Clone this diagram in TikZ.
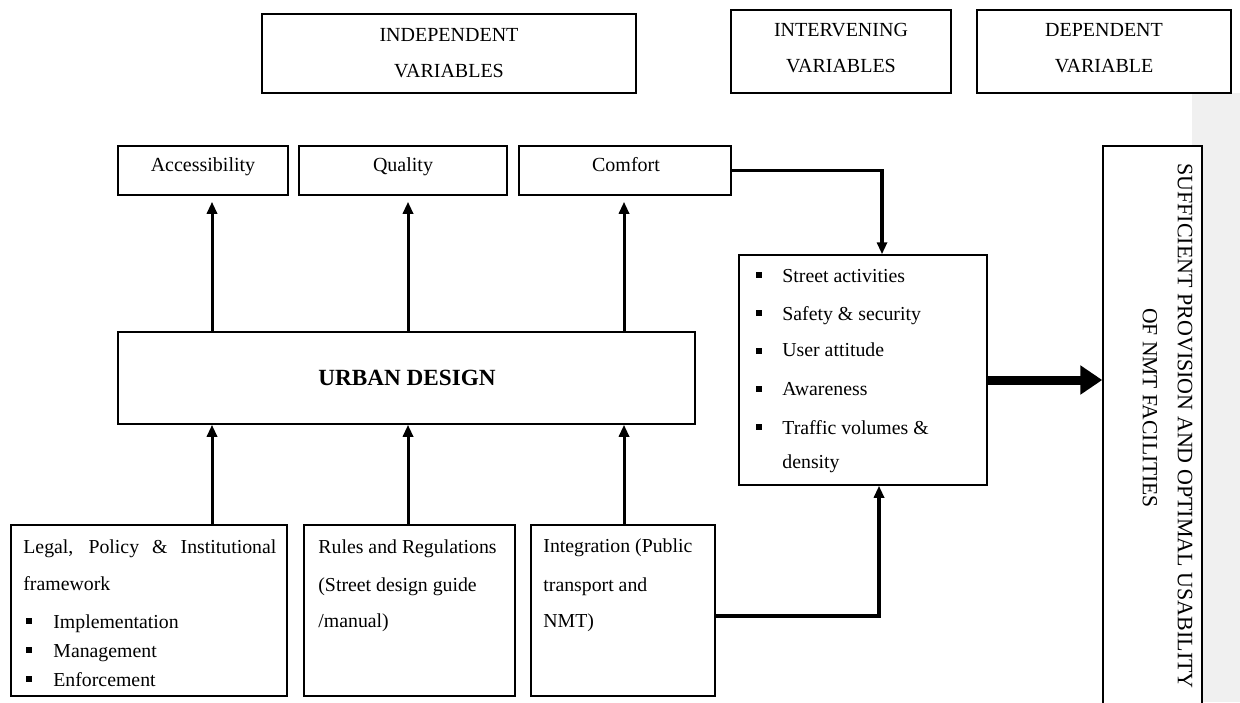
\documentclass[tikz,border=0pt]{standalone}
\usepackage{fontspec}
\setmainfont{Liberation Serif}
\usetikzlibrary{arrows.meta,calc}
\begin{document}
\begin{tikzpicture}[x=0.5pt,y=-0.5pt,
  box/.style={draw=black,line width=0.75pt,inner sep=0pt,fill=white},
  txt/.style={anchor=base,inner sep=0pt,font=\fontsize{10pt}{12pt}\selectfont},
  ltxt/.style={anchor=base west,inner sep=0pt,font=\fontsize{9.9pt}{12pt}\selectfont},
  arr/.style={line width=1.5pt,-{Triangle[length=6pt,width=5pt]}},
  bul/.style={fill=black,inner sep=0pt,minimum size=3pt},
]
\useasboundingbox (0,0) rectangle (1240,702);
\clip (0,0) rectangle (1240,702);
\fill[white] (0,0) rectangle (1240,702);
\fill[black!6] (1192,93) rectangle (1240,702);

% header boxes
\node[box,minimum width=187pt,minimum height=39.5pt] (indep) at (449,53.5) {};
\node[box,minimum width=110pt,minimum height=41.5pt] (interv) at (841,51.5) {};
\node[box,minimum width=127pt,minimum height=41.5pt] (depend) at (1104,51.5) {};
\node[txt] (h1a) at (449,41) {INDEPENDENT};
\node[txt] (h1b) at (449,77) {VARIABLES};
\node[txt] (h2a) at (841,36) {INTERVENING};
\node[txt] (h2b) at (841,72) {VARIABLES};
\node[txt] (h3a) at (1104,36) {DEPENDENT};
\node[txt] (h3b) at (1104,72) {VARIABLE};

% top row
\node[box,minimum width=85pt,minimum height=24.5pt] (access) at (203,170.5) {};
\node[box,minimum width=104pt,minimum height=24.5pt] (quality) at (403,170.5) {};
\node[box,minimum width=106pt,minimum height=24.5pt] (comfort) at (625,170.5) {};
\node[txt] (t_access) at (203,171) {Accessibility};
\node[txt] (t_quality) at (403,171) {Quality};
\node[txt] (t_comfort) at (626,171) {Comfort};

% urban design
\node[box,minimum width=288.5pt,minimum height=46pt] (urban) at (406.5,378) {};
\node[txt,font=\fontsize{11.6pt}{14pt}\selectfont\bfseries] (t_urban) at (407,385) {URBAN DESIGN};

% bottom row
\node[box,minimum width=138pt,minimum height=85.5pt] (legal) at (149,610.5) {};
\node[box,minimum width=105.5pt,minimum height=85.5pt] (rules) at (409.5,610.5) {};
\node[box,minimum width=92pt,minimum height=85.5pt] (integ) at (623,610.5) {};

\node[ltxt] (l1) at (23,553) {\makebox[126.5pt][s]{Legal, Policy \& Institutional}};
\node[ltxt] (l2) at (23,590) {framework};
\node[bul] (lb1) at (29,621) {};
\node[bul] (lb2) at (29,650) {};
\node[bul] (lb3) at (29,679) {};
\node[ltxt] (l3) at (53,628) {Implementation};
\node[ltxt] (l4) at (53,657) {Management};
\node[ltxt] (l5) at (53,686) {Enforcement};

\node[ltxt] (r1) at (318,553) {Rules and Regulations};
\node[ltxt] (r2) at (318,591) {(Street design guide};
\node[ltxt] (r3) at (318,627) {/manual)};

\node[ltxt] (i1) at (543,552) {Integration (Public};
\node[ltxt] (i2) at (543,591) {transport and};
\node[ltxt] (i3) at (543,627) {NMT)};

% intervening factors
\node[box,minimum width=124pt,minimum height=115pt] (factors) at (863,370) {};
\node[bul] (fb1) at (759,275) {};
\node[bul] (fb2) at (759,313) {};
\node[bul] (fb3) at (759,351) {};
\node[bul] (fb4) at (759,389) {};
\node[bul] (fb5) at (759,427) {};
\node[ltxt] (f1) at (782,282) {Street activities};
\node[ltxt] (f2) at (782,320) {Safety \& security};
\node[ltxt] (f3) at (782,356) {User attitude};
\node[ltxt] (f4) at (782,395) {Awareness};
\node[ltxt] (f5) at (782,434) {Traffic volumes \&};
\node[ltxt] (f6) at (782,468) {density};

% outcome
\node[box,minimum width=49.5pt,minimum height=290pt] (outcome) at (1152.5,436) {};
\node[rotate=-90,inner sep=0pt,font=\fontsize{11pt}{13pt}\selectfont] (v1) at (1185,426) {SUFFICIENT PROVISION AND OPTIMAL USABILITY};
\node[rotate=-90,inner sep=0pt,font=\fontsize{10.8pt}{13pt}\selectfont] (v2) at (1150,408) {OF NMT FACILITIES};

% connectors
\coordinate (xa) at (212,0);
\coordinate (xb) at (408,0);
\coordinate (xc) at (624,0);
\coordinate (cc) at (882,0);
\coordinate (ic) at (879,0);
\coordinate (iy) at (0,616);
\coordinate (ty) at (0,380);

\draw[arr,shorten >=3pt] (urban.north -| xa) -- (access.south -| xa);
\draw[arr,shorten >=3pt] (urban.north -| xb) -- (quality.south -| xb);
\draw[arr,shorten >=3pt] (urban.north -| xc) -- (comfort.south -| xc);
\draw[arr] (legal.north -| xa) -- (urban.south -| xa);
\draw[arr] (rules.north -| xb) -- (urban.south -| xb);
\draw[arr] (integ.north -| xc) -- (urban.south -| xc);

\draw[arr,line width=1.7pt] (comfort.east) -| (factors.north -| cc);
\draw[arr,line width=1.6pt] (integ.east |- iy) -| (factors.south -| ic);

\draw[line width=4.5pt,-{Triangle[length=11pt,width=14pt]}] (factors.east |- ty) -- (outcome.west |- ty);
\end{tikzpicture}
\end{document}
